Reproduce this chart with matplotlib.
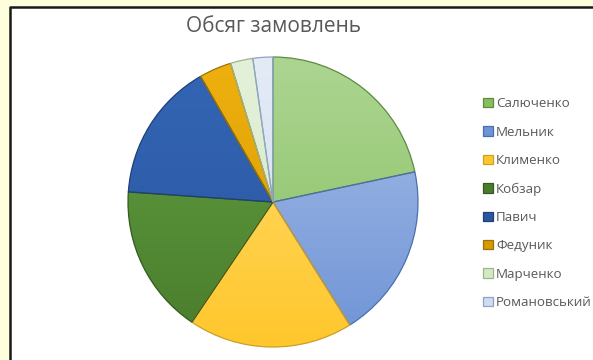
import numpy as np
import matplotlib
matplotlib.use("Agg")
import matplotlib.pyplot as plt
from matplotlib.patches import Patch, Rectangle
from matplotlib.colors import LinearSegmentedColormap

# Daten (Winkel -> Anteile)
names = ["Салюченко", "Мельник", "Клименко", "Кобзар", "Павич",
         "Федуник", "Марченко", "Романовський"]
values = [78, 70, 66, 60, 56, 13, 9, 8]

# Farben: oben hell, unten dunkler (Office-Verlauf)
col_top = ["#ACD592", "#A9BFE8", "#FFDD73", "#62A142", "#3366B5",
           "#EFB00F", "#E4F1DA", "#E4EBF7"]
col_bot = ["#86BF5E", "#6E93D6", "#FFC72C", "#4A7C2C", "#2A55A0",
           "#D49A00", "#D3E8C4", "#CFDCF1"]
col_edge = ["#5E8A42", "#4A6FAE", "#C9A02A", "#35591F", "#1E3F78",
            "#9A7300", "#9DB58C", "#8FA3C6"]

plt.rcParams["font.family"] = ["Open Sans", "DejaVu Sans"]

W, H = 593, 360
fig = plt.figure(figsize=(W / 100, H / 100), dpi=100)
fig.patch.set_facecolor("#FFFEDC")

# weisser Rahmen mit schwarzer Linie links/oben
bg = fig.add_axes([0, 0, 1, 1])
bg.set_xlim(0, W)
bg.set_ylim(H, 0)
bg.axis("off")
bg.add_patch(Rectangle((10, 7), W, H, facecolor="white", edgecolor="none"))
bg.plot([10, 10, W], [H, 7, 7], color="#1A1A1A", lw=1.8, solid_capstyle="butt")

cx, cy, r = 273, 202, 145
ax = fig.add_axes([(cx - r) / W, (H - cy - r) / H, 2 * r / W, 2 * r / H])
wedges, _ = ax.pie(values, startangle=90, counterclock=False,
                   colors=col_bot,
                   wedgeprops=dict(linewidth=0.9))
ax.set_xlim(-1, 1)
ax.set_ylim(-1, 1)
ax.set_aspect("equal")

grad = np.linspace(1, 0, 256).reshape(-1, 1)
for w, ct, cb, ce in zip(wedges, col_top, col_bot, col_edge):
    cmap = LinearSegmentedColormap.from_list("g", [cb, ct])
    im = ax.imshow(grad, cmap=cmap, extent=(-1, 1, -1, 1), aspect="auto",
                   vmin=0, vmax=1, zorder=w.get_zorder() + 0.1)
    im.set_clip_path(w)
    w.set_edgecolor(ce)
    w.set_facecolor("none")
    w.set_zorder(w.get_zorder() + 0.2)

fig.text(274 / W, 1 - 27 / H, "Обсяг замовлень", ha="center", va="center",
         fontsize=15, color="#595959")

handles = [Patch(facecolor=c, edgecolor=e, linewidth=0.9)
           for c, e in zip(col_bot, col_edge)]
leg = fig.legend(handles, names, loc="upper left",
                 bbox_to_anchor=(478 / W, 1 - 92 / H),
                 frameon=False, fontsize=9.6, handlelength=0.7,
                 handleheight=0.7, handletextpad=0.25, labelspacing=1.15,
                 borderaxespad=0)
for t in leg.get_texts():
    t.set_color("#595959")

fig.savefig("out.png", dpi=100, facecolor=fig.get_facecolor())
